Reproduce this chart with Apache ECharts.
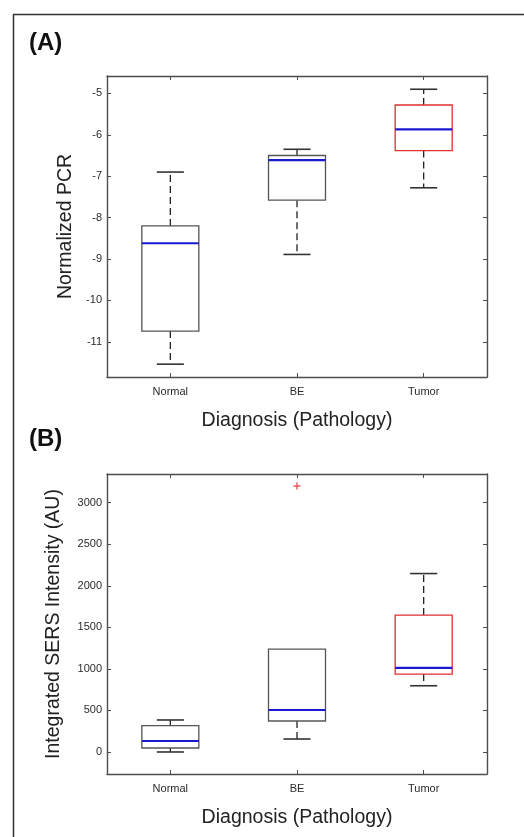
<!DOCTYPE html>
<html>
<head>
<meta charset="utf-8">
<script src="https://cdn.jsdelivr.net/npm/echarts@6/dist/echarts.min.js"></script>
<style>
  html, body { margin: 0; padding: 0; background: #fff; }
  #chart { width: 524px; height: 837px; }
</style>
</head>
<body>
<div id="chart"></div>
<script>
// categories shared by both panels
const categories = ['Normal', 'BE', 'Tumor'];

// panel A: normalized PCR, [lower whisker, Q1, median, Q3, upper whisker]
const pcrStats = [
  [-11.54, -10.74, -8.62, -8.20, -6.90],
  [-8.89, -7.58, -6.61, -6.50, -6.35],
  [-7.28, -6.38, -5.87, -5.28, -4.90]
];
const pcrRange = [-11.85, -4.58];

// panel B: integrated SERS intensity (AU)
const sersStats = [
  [0, 48, 132, 316, 385],
  [156, 373, 505, 1238, 1238],
  [797, 937, 1013, 1647, 2147]
];
const sersOutliers = [['BE', 3200]];
const sersRange = [-265, 3345];

// box edge colour per category (Tumor in red like the matlab plot)
const boxEdge = ['#555', '#555', '#e03030'];

const font = 'Liberation Sans, Arial, sans-serif';
const axisColor = '#4d4d4d';

function renderBox(params, api) {
  const i = api.value(0);
  const lo = api.coord([i, api.value(1)]);
  const q1 = api.coord([i, api.value(2)]);
  const med = api.coord([i, api.value(3)]);
  const q3 = api.coord([i, api.value(4)]);
  const hi = api.coord([i, api.value(5)]);
  const band = api.size([1, 0])[0];
  const half = band * 0.225;
  const cap = band * 0.107;
  const cx = lo[0];
  const dashed = { stroke: '#222', lineWidth: 1.3, lineDash: [7, 4] };
  const solid = { stroke: '#333', lineWidth: 1.6 };
  const parts = [];
  // whiskers only where they stick out of the box
  if (hi[1] < q3[1] - 0.5) {
    parts.push({ type: 'line', shape: { x1: cx, y1: q3[1], x2: cx, y2: hi[1] }, style: dashed });
    parts.push({ type: 'line', shape: { x1: cx - cap, y1: hi[1], x2: cx + cap, y2: hi[1] }, style: solid });
  }
  if (lo[1] > q1[1] + 0.5) {
    parts.push({ type: 'line', shape: { x1: cx, y1: q1[1], x2: cx, y2: lo[1] }, style: dashed });
    parts.push({ type: 'line', shape: { x1: cx - cap, y1: lo[1], x2: cx + cap, y2: lo[1] }, style: solid });
  }
  parts.push({
    type: 'rect',
    shape: { x: cx - half, y: q3[1], width: half * 2, height: q1[1] - q3[1] },
    style: { fill: '#fff', stroke: boxEdge[i], lineWidth: 1.3 }
  });
  parts.push({ type: 'line', shape: { x1: cx - half, y1: med[1], x2: cx + half, y2: med[1] }, style: { stroke: '#1a1ad0', lineWidth: 2.2 } });
  return { type: 'group', children: parts };
}

function catAxis(gridIndex, bottom) {
  return {
    type: 'category',
    gridIndex: gridIndex,
    position: bottom ? 'bottom' : 'top',
    data: categories,
    name: bottom ? 'Diagnosis (Pathology)' : '',
    nameLocation: 'middle',
    nameGap: 34,
    nameTextStyle: { fontFamily: font, fontSize: 19.5, color: '#222' },
    axisLine: { show: true, onZero: false, lineStyle: { color: axisColor, width: 1.4 } },
    axisTick: { show: true, inside: true, length: 4, alignWithLabel: true, lineStyle: { color: axisColor } },
    axisLabel: { show: bottom, fontFamily: font, fontSize: 11, color: '#2a2a2a', margin: 9 },
    splitLine: { show: false }
  };
}

function valAxis(gridIndex, left, range, name, gap) {
  return {
    type: 'value',
    gridIndex: gridIndex,
    position: left ? 'left' : 'right',
    min: range[0],
    max: range[1],
    splitNumber: 7,
    name: left ? name : '',
    nameLocation: 'middle',
    nameGap: gap,
    nameTextStyle: { fontFamily: font, fontSize: 19.5, color: '#222' },
    axisLine: { show: true, onZero: false, lineStyle: { color: axisColor, width: 1.4 } },
    axisTick: { show: true, inside: true, length: 4, lineStyle: { color: axisColor } },
    axisLabel: {
      show: left, fontFamily: font, fontSize: 11, color: '#2a2a2a', margin: 5,
      showMinLabel: false, showMaxLabel: false,
      formatter: v => String(v)
    },
    splitLine: { show: false }
  };
}

const chart = echarts.init(document.getElementById('chart'), null, { renderer: 'canvas' });

chart.setOption({
  backgroundColor: '#fff',
  animation: false,
  grid: [
    { left: 107, top: 76, width: 380, height: 301 },
    { left: 107, top: 474, width: 380, height: 300 }
  ],
  xAxis: [catAxis(0, true), catAxis(0, false), catAxis(1, true), catAxis(1, false)],
  yAxis: [
    valAxis(0, true, pcrRange, 'Normalized PCR', 29),
    valAxis(0, false, pcrRange, ''),
    valAxis(1, true, sersRange, 'Integrated SERS Intensity (AU)', 43),
    valAxis(1, false, sersRange, '')
  ],
  graphic: [
    { type: 'rect', left: 11, top: 12, shape: { width: 530, height: 840 }, style: { fill: 'none', stroke: '#333', lineWidth: 1.5 }, silent: true },
    { type: 'text', x: 29, y: 43, style: { text: '(A)', font: 'bold 24px ' + font, fill: '#111', textVerticalAlign: 'middle' } },
    { type: 'text', x: 29, y: 439, style: { text: '(B)', font: 'bold 24px ' + font, fill: '#111', textVerticalAlign: 'middle' } }
  ],
  series: [
    {
      type: 'custom',
      xAxisIndex: 0,
      yAxisIndex: 0,
      renderItem: renderBox,
      encode: { x: 0, y: [1, 2, 3, 4, 5] },
      data: pcrStats.map((s, i) => [i].concat(s))
    },
    {
      type: 'custom',
      xAxisIndex: 2,
      yAxisIndex: 2,
      renderItem: renderBox,
      encode: { x: 0, y: [1, 2, 3, 4, 5] },
      data: sersStats.map((s, i) => [i].concat(s))
    },
    {
      type: 'scatter',
      xAxisIndex: 2,
      yAxisIndex: 2,
      symbol: 'path://M4,0h2v10h-2zM0,4h10v2h-10z',
      symbolSize: 7,
      itemStyle: { color: '#e03030' },
      data: sersOutliers
    }
  ]
});
</script>
</body>
</html>
